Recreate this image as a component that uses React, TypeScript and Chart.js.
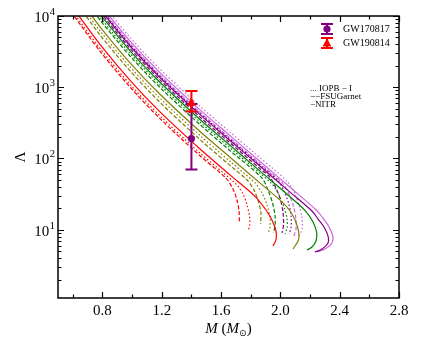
import React, { useEffect, useRef } from 'react';
import { Chart, registerables } from 'chart.js';
Chart.register(...registerables);

type P = [number, number];

// ---- curves: [M (Msun), Lambda] ----
const RED_FSU: P[] = [[0.588,11400],[0.783,3215],[0.986,1005],[1.188,363],[1.458,109],[1.633,52.9],[1.680,37.3],[1.707,26.1],[1.721,18.3],[1.724,12.4]];
const RED_IOPB: P[] = [[0.601,11400],[0.783,3510],[0.986,1096],[1.188,396],[1.458,119],[1.701,43.7],[1.748,31.7],[1.775,22.2],[1.792,15.1],[1.792,11.3],[1.782,9.6]];
const RED_NITR: P[] = [[0.621,11400],[0.783,4000],[0.986,1250],[1.188,451],[1.458,136],[1.660,58.9],[1.829,29.4],[1.903,18.9],[1.943,13.7],[1.970,9.6],[1.970,7.17],[1.950,5.91]];

const OLIVE_FSU: P[] = [[0.669,11400],[0.783,5430],[0.986,1696],[1.188,613],[1.458,184],[1.660,80],[1.775,49.9],[1.822,36.1],[1.852,24.5],[1.869,17.2],[1.866,12.0]];
const OLIVE_IOPB: P[] = [[0.689,11400],[0.783,6190],[0.986,1933],[1.188,698],[1.458,210],[1.660,91.2],[1.829,45.5],[1.876,32.8],[1.910,22.2],[1.930,14.6],[1.930,10.6],[1.916,9.0]];
const OLIVE_NITR: P[] = [[0.709,11400],[0.783,7050],[0.986,2203],[1.188,796],[1.458,239],[1.660,104],[1.863,45.1],[2.018,23.8],[2.065,18.3],[2.099,13.7],[2.122,9.6],[2.122,7.17],[2.085,5.36]];

const GREEN_FSU: P[] = [[0.743,11400],[0.783,8780],[0.986,2740],[1.188,990],[1.458,298],[1.660,129],[1.876,53.1],[1.916,36.1],[1.947,23.7],[1.964,15.6],[1.964,11.3],[1.954,9.0]];
const GREEN_IOPB: P[] = [[0.756,11400],[0.783,9580],[0.986,2990],[1.188,1081],[1.458,325],[1.660,141],[1.943,43.9],[1.991,30.7],[2.024,20.8],[2.045,14.1],[2.045,10.6],[2.031,8.7]];
const GREEN_NITR: P[] = [[0.770,11400],[0.986,3250],[1.188,1173],[1.458,352],[1.660,153],[1.863,66.5],[2.132,21.9],[2.180,17.2],[2.220,12.8],[2.244,9.3],[2.240,6.95],[2.213,5.72],[2.180,5.19]];

const PURPLE_FSU: P[] = [[0.783,11400],[0.986,3510],[1.188,1268],[1.458,381],[1.660,166],[1.863,71.9],[1.930,54.4],[1.970,38.5],[2.001,26.1],[2.018,17.2],[2.021,11.6],[2.011,9.0]];
const PURPLE_IOPB: P[] = [[0.804,11400],[0.986,3945],[1.188,1425],[1.458,428],[1.660,186],[1.863,80.7],[1.984,48.9],[2.024,34.9],[2.055,23.7],[2.072,15.6],[2.072,10.9],[2.058,8.7]];
const PURPLE_NITR: P[] = [[0.797,11400],[0.986,3790],[1.188,1370],[1.458,412],[1.660,179],[1.863,77.6],[2.065,33.7],[2.213,18.3],[2.254,14.1],[2.294,10.9],[2.321,8.17],[2.321,6.51],[2.281,5.36],[2.233,4.87]];

const VIOLET_FSU: P[] = [[0.810,11400],[0.986,4100],[1.188,1480],[1.458,445],[1.660,193],[1.863,83.9],[2.011,45.6],[2.058,31.7],[2.088,21.5],[2.105,14.1],[2.105,10.2],[2.092,8.17]];
const VIOLET_IOPB: P[] = [[0.844,11400],[0.986,4980],[1.188,1798],[1.458,540],[1.660,235],[1.863,102],[2.045,48.1],[2.092,33.8],[2.126,22.2],[2.146,14.6],[2.146,10.2],[2.126,8.17]];
const VIOLET_NITR: P[] = [[0.824,11400],[0.986,4430],[1.188,1600],[1.458,481],[1.660,209],[1.863,90.7],[2.065,39.4],[2.240,19.1],[2.281,15.1],[2.321,11.6],[2.352,8.43],[2.348,6.51],[2.301,5.36],[2.247,4.87]];

// ---- GW constraints ----
const GW_NAMES = ['GW170817', 'GW190814'];
const GW_MASS = [1.4, 1.4];
const GW_LAMBDA = [190, 616];
const GW_ERR_UP = [390, 273];
const GW_ERR_DN = [120, 158];

// ---- ticks ----
const X_TICKS = [0.6, 0.8, 1.0, 1.2, 1.4, 1.6, 1.8, 2.0, 2.2, 2.4, 2.6, 2.8];
const X_LABELS = [0.8, 1.2, 1.6, 2.0, 2.4, 2.8];
const Y_DECADES = [1, 2, 3, 4];
const Y_MINOR_MULT = [2, 3, 4, 5, 6, 7, 8, 9];
const EOS_LABELS = ['... IOPB \u2212 I', '\u2212\u2212FSUGarnet', '\u2212NITR'];

const COL = { red: '#ff0000', olive: '#808000', green: '#008000', purple: '#800080', violet: '#cc66dd' };
const DOT = [1.5, 2.2];
const DASH = [4, 2];
const FONT = '"Liberation Serif", "DejaVu Serif", serif';

const series: { d: P[]; c: string; dash: number[] }[] = [
  { d: RED_FSU, c: COL.red, dash: DASH },
  { d: RED_IOPB, c: COL.red, dash: DOT },
  { d: RED_NITR, c: COL.red, dash: [] },
  { d: OLIVE_FSU, c: COL.olive, dash: DASH },
  { d: OLIVE_IOPB, c: COL.olive, dash: DOT },
  { d: OLIVE_NITR, c: COL.olive, dash: [] },
  { d: GREEN_FSU, c: COL.green, dash: DASH },
  { d: GREEN_IOPB, c: COL.green, dash: DOT },
  { d: GREEN_NITR, c: COL.green, dash: [] },
  { d: PURPLE_FSU, c: COL.purple, dash: DASH },
  { d: PURPLE_IOPB, c: COL.purple, dash: DOT },
  { d: PURPLE_NITR, c: COL.purple, dash: [] },
  { d: VIOLET_FSU, c: COL.violet, dash: DASH },
  { d: VIOLET_IOPB, c: COL.violet, dash: DOT },
  { d: VIOLET_NITR, c: COL.violet, dash: [] },
];

const GW_COLORS = [COL.purple, COL.red];

function drawErrGlyph(ctx: CanvasRenderingContext2D, x: number, y0: number, y1: number, c: string) {
  ctx.strokeStyle = c;
  ctx.lineWidth = 2;
  ctx.beginPath();
  ctx.moveTo(x, y0); ctx.lineTo(x, y1);
  ctx.moveTo(x - 6, y0); ctx.lineTo(x + 6, y0);
  ctx.moveTo(x - 6, y1); ctx.lineTo(x + 6, y1);
  ctx.stroke();
}
function drawMarker(ctx: CanvasRenderingContext2D, x: number, y: number, i: number, c: string) {
  ctx.fillStyle = c;
  ctx.beginPath();
  if (i === 0) {
    ctx.arc(x, y, 3.6, 0, Math.PI * 2);
  } else {
    ctx.moveTo(x, y - 5);
    ctx.lineTo(x - 4.3, y + 3.5);
    ctx.lineTo(x + 4.3, y + 3.5);
    ctx.closePath();
  }
  ctx.fill();
}

const decor = {
  id: 'decor',
  afterDatasetsDraw(chart: any) {
    const { ctx, scales } = chart;
    const xs = scales.x, ys = scales.y;
    ctx.save();
    GW_NAMES.forEach((_, i) => {
      const x = xs.getPixelForValue(GW_MASS[i]);
      const y0 = ys.getPixelForValue(GW_LAMBDA[i] - GW_ERR_DN[i]);
      const y1 = ys.getPixelForValue(GW_LAMBDA[i] + GW_ERR_UP[i]);
      drawErrGlyph(ctx, x, y0, y1, GW_COLORS[i]);
      drawMarker(ctx, x, ys.getPixelForValue(GW_LAMBDA[i]), i, GW_COLORS[i]);
    });
    ctx.restore();
  },
  afterDraw(chart: any) {
    const { ctx, chartArea: a, scales } = chart;
    const xs = scales.x, ys = scales.y;
    ctx.save();
    ctx.strokeStyle = '#000';
    ctx.lineWidth = 1.5;
    ctx.strokeRect(a.left, a.top, a.right - a.left, a.bottom - a.top);
    ctx.lineWidth = 1.2;
    ctx.beginPath();
    X_TICKS.forEach((v) => {
      const px = Math.round(xs.getPixelForValue(v)) + 0.5;
      const major = X_LABELS.some((l) => Math.abs(l - v) < 1e-6);
      const len = major ? 6 : 3.5;
      ctx.moveTo(px, a.bottom); ctx.lineTo(px, a.bottom - len);
      ctx.moveTo(px, a.top); ctx.lineTo(px, a.top + len);
    });
    const yMin = ys.min, yMax = ys.max;
    const yTick = (v: number, len: number) => {
      if (v < yMin - 1e-9 || v > yMax + 1e-9) return;
      const py = Math.round(ys.getPixelForValue(v)) + 0.5;
      ctx.moveTo(a.left, py); ctx.lineTo(a.left + len, py);
      ctx.moveTo(a.right, py); ctx.lineTo(a.right - len, py);
    };
    [0, ...Y_DECADES].forEach((d) => {
      yTick(Math.pow(10, d), 6);
      Y_MINOR_MULT.forEach((m) => yTick(m * Math.pow(10, d), 3.5));
    });
    ctx.stroke();

    ctx.fillStyle = '#000';
    ctx.font = `15px ${FONT}`;
    ctx.textAlign = 'center';
    ctx.textBaseline = 'alphabetic';
    X_LABELS.forEach((v) => {
      ctx.fillText(v.toFixed(1), xs.getPixelForValue(v), a.bottom + 17);
    });
    Y_DECADES.forEach((d) => {
      const py = ys.getPixelForValue(Math.pow(10, d));
      ctx.textAlign = 'right';
      ctx.font = `10.5px ${FONT}`;
      const supW = ctx.measureText(String(d)).width;
      ctx.fillText(String(d), a.left - 3, py - 1);
      ctx.font = `15px ${FONT}`;
      ctx.fillText('10', a.left - 3 - supW - 0.5, py + 6);
    });
    ctx.save();
    ctx.translate(20, (a.top + a.bottom) / 2);
    ctx.rotate(-Math.PI / 2);
    ctx.textAlign = 'center';
    ctx.font = `15px ${FONT}`;
    ctx.fillText('\u039B', 0, 5);
    ctx.restore();
    const parts: { t: string; f: string; dy: number }[] = [
      { t: 'M', f: `italic 15px ${FONT}`, dy: 0 },
      { t: ' (', f: `15px ${FONT}`, dy: 0 },
      { t: 'M', f: `italic 15px ${FONT}`, dy: 0 },
      { t: '\u2299', f: `9px "DejaVu Sans", sans-serif`, dy: 3 },
      { t: ')', f: `15px ${FONT}`, dy: 0 },
    ];
    let tw = 0;
    parts.forEach((p) => { ctx.font = p.f; tw += ctx.measureText(p.t).width; });
    let cx = (a.left + a.right) / 2 - tw / 2;
    const by = a.bottom + 35;
    ctx.textAlign = 'left';
    parts.forEach((p) => {
      ctx.font = p.f;
      ctx.fillText(p.t, cx, by + p.dy);
      cx += ctx.measureText(p.t).width;
    });

    const lx = a.right - 72;
    GW_NAMES.forEach((n, i) => {
      const ly = a.top + 13 + i * 14;
      drawErrGlyph(ctx, lx, ly - 5, ly + 5, GW_COLORS[i]);
      drawMarker(ctx, lx, ly, i, GW_COLORS[i]);
      ctx.fillStyle = '#000';
      ctx.font = `10px ${FONT}`;
      ctx.textAlign = 'left';
      ctx.textBaseline = 'middle';
      ctx.fillText(n, lx + 16, ly + 0.5);
    });
    ctx.font = `9px ${FONT}`;
    ctx.textBaseline = 'middle';
    EOS_LABELS.forEach((t, i) => {
      ctx.fillText(t, 310, 89 + i * 8);
    });
    ctx.restore();
  },
};

export default function App() {
  const ref = useRef<HTMLCanvasElement | null>(null);
  useEffect(() => {
    if (!ref.current) return;
    const chart = new Chart(ref.current, {
      type: 'line',
      data: {
        datasets: series.map((s) => ({
          data: s.d.map(([x, y]) => ({ x, y })),
          borderColor: s.c,
          borderWidth: 1.2,
          borderDash: s.dash,
          pointRadius: 0,
          tension: 0.3,
          fill: false,
        })),
      },
      options: {
        animation: false,
        responsive: false,
        events: [],
        layout: { padding: { top: 16, right: 22, left: 0, bottom: 0 } },
        plugins: { legend: { display: false }, tooltip: { enabled: false } },
        scales: {
          x: {
            type: 'linear', min: 0.5, max: 2.8,
            grid: { display: false }, border: { display: false },
            ticks: { display: false },
            afterFit: (s: any) => { s.height = 53; },
          },
          y: {
            type: 'logarithmic', min: 1.1, max: 10000,
            grid: { display: false }, border: { display: false },
            ticks: { display: false },
            afterFit: (s: any) => { s.width = 58; },
          },
        },
      } as any,
      plugins: [decor],
    });
    return () => chart.destroy();
  }, []);
  return (
    <div style={{ position: 'fixed', left: 0, top: 0, width: 421, height: 351, background: '#fff' }}>
      <canvas ref={ref} width={421} height={351} style={{ display: 'block' }} />
    </div>
  );
}
